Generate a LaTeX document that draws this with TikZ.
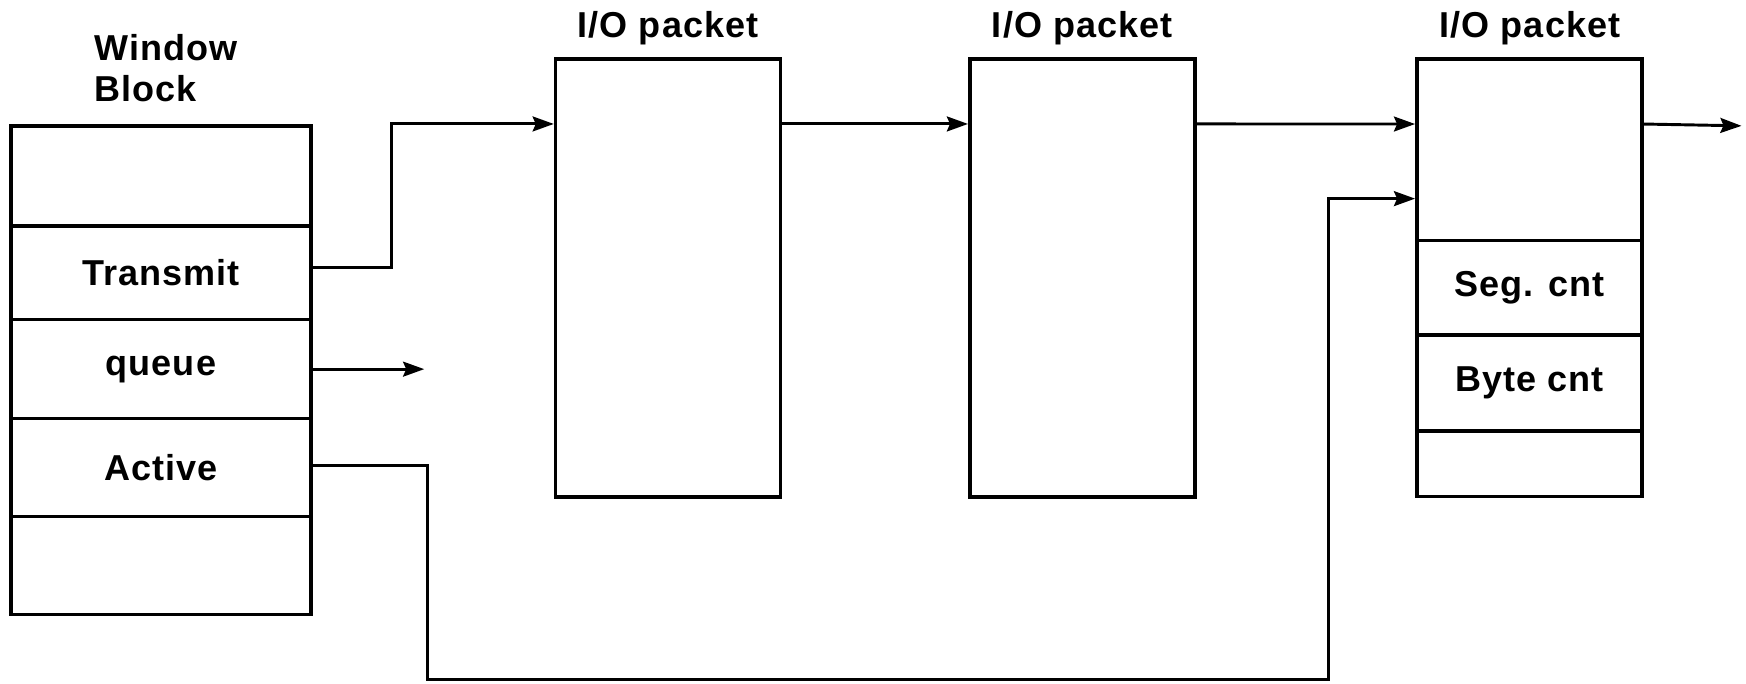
\documentclass[tikz,border=0pt]{standalone}
\usepackage{fontspec}
\setmainfont{Liberation Sans}[LetterSpace=3]
\usetikzlibrary{arrows.meta,calc}
\begin{document}
\begin{tikzpicture}[x=0.01cm,y=-0.01cm,
  txt/.style={font=\fontsize{9.2}{10.5}\selectfont\bfseries, inner sep=0pt},
  cell/.style={draw, line width=0.9pt, inner sep=0pt, txt},
  wcell/.style={cell, minimum width=2.69cm},
  pcell/.style={cell, minimum width=2.02cm},
  conn/.style={line width=0.75pt, -{Stealth[length=5.4pt,width=3.8pt,inset=0.8pt]}},
  wire/.style={line width=0.75pt}]
\useasboundingbox (0,0) rectangle (1568,614);
% window block
\node[txt, anchor=west, align=left] (wbt) at (84,61) {Window\\Block};
\node[wcell, minimum height=0.90cm] (w1) at (144.5,158) {};
\node[wcell, minimum height=0.84cm] (w2) at (144.5,245) {Transmit};
\node[wcell, minimum height=0.89cm] (w3) at (144.5,331.5) {queue};
\node[wcell, minimum height=0.88cm] (w4) at (144.5,420) {Active};
\node[wcell, minimum height=0.88cm] (w5) at (144.5,508) {};
% packets
\node[txt] (t1) at (600,25) {I/O packet};
\node[txt] (t2) at (972,25) {I/O packet};
\node[txt] (t3) at (1374,25) {I/O packet};
\node[pcell, minimum height=3.93cm] (p1) at (600,249.5) {};
\node[pcell, minimum height=3.93cm] (p2) at (972,249.5) {};
\node[pcell, minimum height=1.63cm] (p3a) at (1373.5,134.5) {};
\node[pcell, minimum height=0.85cm] (p3b) at (1373.5,258.5) {Seg. cnt};
\node[pcell, minimum height=0.86cm] (p3c) at (1373.5,344) {Byte cnt};
\node[pcell, minimum height=0.59cm] (p3d) at (1373.5,416.5) {};
% connectors
\draw[conn] ($(w2.east)+(0,-5)$) -- ++(71,0) |- ($(p1.north west)+(0,60)$);
\draw[conn] ($(p1.north east)+(0,60)$) -- ($(p2.north west)+(0,60)$);
\draw[conn] ($(p2.north east)+(0,60)$) -- ($(p3a.north west)+(0,60)$);
\coordinate (outend) at (1564,113);
\draw[conn] ($(p3a.north east)+(0,60)$) -- (outend);
\coordinate (qend) at (381,331.5);
\draw[conn] (w3.east) -- (qend);
\coordinate (turn) at (1193,610);
\draw[conn] ($(w4.east)+(0,-2)$) -- ++(103,0) |- (turn) |- ($(p3a.north west)+(0,127)$);
\end{tikzpicture}
\end{document}
